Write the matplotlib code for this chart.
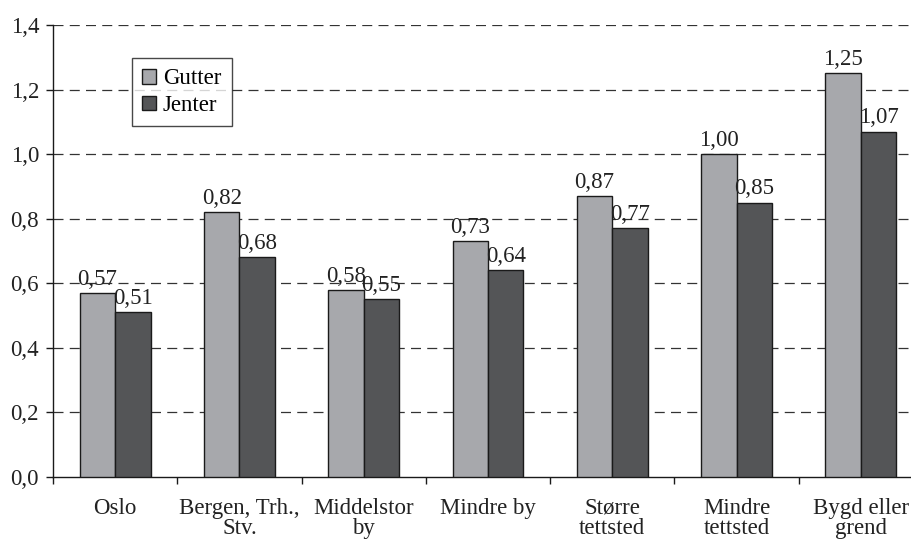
import matplotlib

matplotlib.use("Agg")
import matplotlib.pyplot as plt
import numpy as np

categories = ["Oslo", "Bergen, Trh.,\nStv.", "Middelstor\nby", "Mindre by",
              "Større\ntettsted", "Mindre\ntettsted", "Bygd eller\ngrend"]
gutter = [0.57, 0.82, 0.58, 0.73, 0.87, 1.00, 1.25]
jenter = [0.51, 0.68, 0.55, 0.64, 0.77, 0.85, 1.07]
y_ticks = [0.0, 0.2, 0.4, 0.6, 0.8, 1.0, 1.2, 1.4]

plt.rcParams["font.family"] = ["Liberation Serif", "DejaVu Serif"]
FS = 16.5


def comma(v: float) -> str:
    return f"{v:.2f}".replace(".", ",")


fig = plt.figure(figsize=(9.12, 5.41), dpi=100)
W, H = 912, 541
ax_left, ax_right, ax_top, ax_bottom = 53, 923, 25, 477
ax = fig.add_axes([ax_left / W, (H - ax_bottom) / H, (ax_right - ax_left) / W, (ax_bottom - ax_top) / H])

x = np.arange(len(categories))
width = 0.285
gray = "#a7a8ac"
dark = "#545557"
edge = "#1a1a1a"
b1 = ax.bar(x - width / 2, gutter, width, color=gray, edgecolor=edge, linewidth=1.0, label="Gutter", zorder=3)
b2 = ax.bar(x + width / 2, jenter, width, color=dark, edgecolor=edge, linewidth=1.0, label="Jenter", zorder=3)

for bars, vals in [(b1, gutter), (b2, jenter)]:
    for rect, v in zip(bars, vals):
        ax.text(rect.get_x() + rect.get_width() / 2, v + 0.01, comma(v),
                ha="center", va="bottom", fontsize=FS, color="#222222", zorder=4)

ax.set_xlim(-0.5, len(categories) - 0.5)
ax.set_ylim(0, 1.4)
ax.set_yticks(y_ticks)
ax.set_yticklabels([f"{t:.1f}".replace(".", ",") for t in y_ticks], fontsize=FS, color="#222222")
ax.set_xticks(x)
ax.set_xticklabels(categories, fontsize=FS, color="#222222", linespacing=0.95)
ax.tick_params(axis="x", length=0, pad=15)
ax.set_xticks(np.arange(-0.5, len(categories), 1.0), minor=True)
ax.tick_params(axis="x", which="minor", length=5, width=1, color=edge, direction="out")
ax.tick_params(axis="y", length=5, width=1, color=edge, direction="out", pad=5)

for t in y_ticks[1:]:
    ax.axhline(t, color="#333333", linewidth=0.9, linestyle=(0, (8, 5)), zorder=1)

for s in ["top", "right"]:
    ax.spines[s].set_visible(False)
ax.spines["left"].set_color(edge)
ax.spines["bottom"].set_color(edge)
ax.spines["left"].set_linewidth(1.0)
ax.spines["bottom"].set_linewidth(1.0)

leg = fig.legend(handles=[b1, b2], loc="upper left",
                 bbox_to_anchor=(132 / W, 1 - 58 / H), fontsize=FS,
                 frameon=True, fancybox=False, edgecolor=edge,
                 handlelength=0.6, handleheight=0.6, handletextpad=0.3,
                 borderpad=0.45, labelspacing=0.25, borderaxespad=0)
leg.get_frame().set_linewidth(1.0)

fig.savefig("out.png", dpi=100)
